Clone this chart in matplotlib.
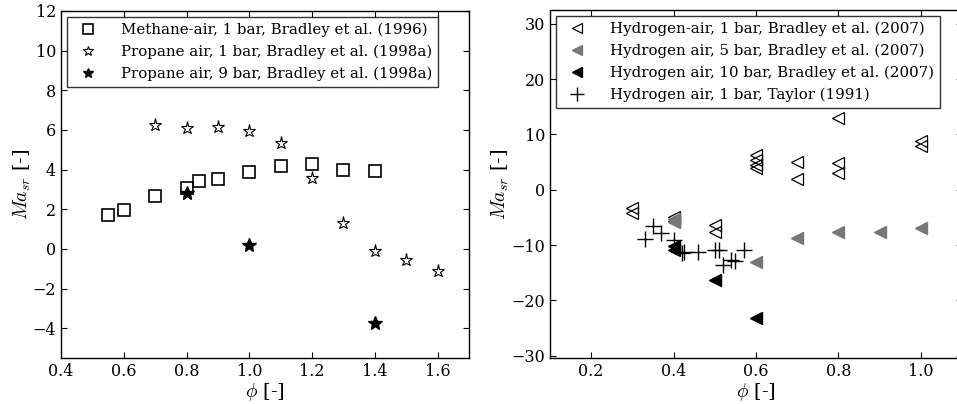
import matplotlib
matplotlib.use('Agg')
import matplotlib.pyplot as plt
import numpy as np

plt.rcParams['font.family'] = 'DejaVu Serif'
plt.rcParams['mathtext.fontset'] = 'cm'
plt.rcParams['xtick.direction'] = 'in'
plt.rcParams['ytick.direction'] = 'in'
plt.rcParams['xtick.top'] = True
plt.rcParams['ytick.right'] = True

# ---- left panel data (phi, Ma_sr) ----
methane_phi = [0.55, 0.60, 0.70, 0.80, 0.84, 0.90, 1.00, 1.10, 1.20, 1.30, 1.40]
methane_ma = [1.70, 1.95, 2.67, 3.09, 3.40, 3.54, 3.86, 4.20, 4.28, 3.99, 3.93]

propane1_phi = [0.70, 0.80, 0.90, 1.00, 1.10, 1.20, 1.30, 1.40, 1.50, 1.60]
propane1_ma = [6.24, 6.12, 6.15, 5.95, 5.32, 3.60, 1.31, -0.12, -0.56, -1.11]

propane9_phi = [0.80, 1.00, 1.40]
propane9_ma = [2.84, 0.20, -3.74]

# ---- right panel data ----
h2_1bar_phi = [0.30, 0.30, 0.40, 0.40, 0.50, 0.50, 0.60, 0.60, 0.60, 0.60,
               0.70, 0.70, 0.80, 0.80, 0.80, 1.00, 1.00]
h2_1bar_ma = [-3.3, -4.2, -5.0, -5.6, -6.3, -7.6, 6.3, 5.4, 4.5, 3.9,
              5.1, 1.9, 13.0, 4.8, 3.0, 8.9, 8.0]

h2_5bar_phi = [0.40, 0.40, 0.60, 0.70, 0.80, 0.90, 1.00]
h2_5bar_ma = [-5.2, -5.8, -13.0, -8.7, -7.65, -7.65, -6.9]

h2_10bar_phi = [0.40, 0.40, 0.50, 0.60]
h2_10bar_ma = [-10.2, -10.8, -16.3, -23.2]

taylor_phi = [0.33, 0.35, 0.37, 0.40, 0.42, 0.425, 0.46, 0.50, 0.51, 0.52,
              0.54, 0.55, 0.57]
taylor_ma = [-8.9, -6.5, -7.8, -9.0, -11.5, -11.3, -11.2, -10.9, -10.8, -13.6,
             -12.7, -12.8, -10.8]

fig = plt.figure(figsize=(9.57, 4.04), dpi=100)
ax1 = fig.add_axes([0.0637, 0.1139, 0.4264, 0.859])
ax2 = fig.add_axes([0.5747, 0.1139, 0.4305, 0.8614])

ax1.plot(methane_phi, methane_ma, 's', mfc='none', mec='black', mew=1.2, ms=9,
         label='Methane-air, 1 bar, Bradley et al. (1996)')
ax1.plot(propane1_phi, propane1_ma, '*', mfc='none', mec='black', mew=0.8, ms=9.5,
         label='Propane air, 1 bar, Bradley et al. (1998a)')
ax1.plot(propane9_phi, propane9_ma, '*', mfc='black', mec='black', ms=10,
         label='Propane air, 9 bar, Bradley et al. (1998a)')

ax1.set_xlim(0.4, 1.7)
ax1.set_ylim(-5.5, 12)
ax1.set_xticks([0.4, 0.6, 0.8, 1.0, 1.2, 1.4, 1.6])
ax1.set_yticks([-4, -2, 0, 2, 4, 6, 8, 10, 12])
ax1.set_xlabel(r'$\phi$ [-]', fontsize=14, labelpad=1)
ax1.set_ylabel(r'$Ma_{sr}$ [-]', fontsize=14, labelpad=0)
leg1 = ax1.legend(loc='upper left', fontsize=10.8, markerscale=0.75, frameon=True,
                  fancybox=False, edgecolor='black', borderaxespad=0.4,
                  handletextpad=1.2, labelspacing=0.5, borderpad=0.4)
leg1.get_frame().set_linewidth(1.0)

ax2.plot(h2_1bar_phi, h2_1bar_ma, '<', mfc='none', mec='black', mew=0.9, ms=8,
         label='Hydrogen-air, 1 bar, Bradley et al. (2007)')
ax2.plot(h2_5bar_phi, h2_5bar_ma, '<', mfc='#777777', mec='#777777', ms=8,
         label='Hydrogen air, 5 bar, Bradley et al. (2007)')
ax2.plot(h2_10bar_phi, h2_10bar_ma, '<', mfc='black', mec='black', ms=8,
         label='Hydrogen air, 10 bar, Bradley et al. (2007)')
ax2.plot(taylor_phi, taylor_ma, '+', color='black', mew=1.0, ms=12,
         label='Hydrogen air, 1 bar, Taylor (1991)')

ax2.set_xlim(0.1, 1.1)
ax2.set_ylim(-30.4, 32.5)
ax2.set_xticks([0.2, 0.4, 0.6, 0.8, 1.0])
ax2.set_yticks([-30, -20, -10, 0, 10, 20, 30])
ax2.set_xlabel(r'$\phi$ [-]', fontsize=14, labelpad=1)
ax2.set_ylabel(r'$Ma_{sr}$ [-]', fontsize=14, labelpad=0)
leg2 = ax2.legend(loc='upper left', fontsize=10.8, markerscale=0.85, frameon=True,
                  fancybox=False, edgecolor='black', borderaxespad=0.4,
                  handletextpad=1.2, labelspacing=0.5, borderpad=0.4)
leg2.get_frame().set_linewidth(1.0)

for ax in (ax1, ax2):
    ax.tick_params(labelsize=11.5, length=4, width=0.8)
    for s in ax.spines.values():
        s.set_linewidth(1.0)

fig.savefig('out.png', dpi=100, facecolor='white')
